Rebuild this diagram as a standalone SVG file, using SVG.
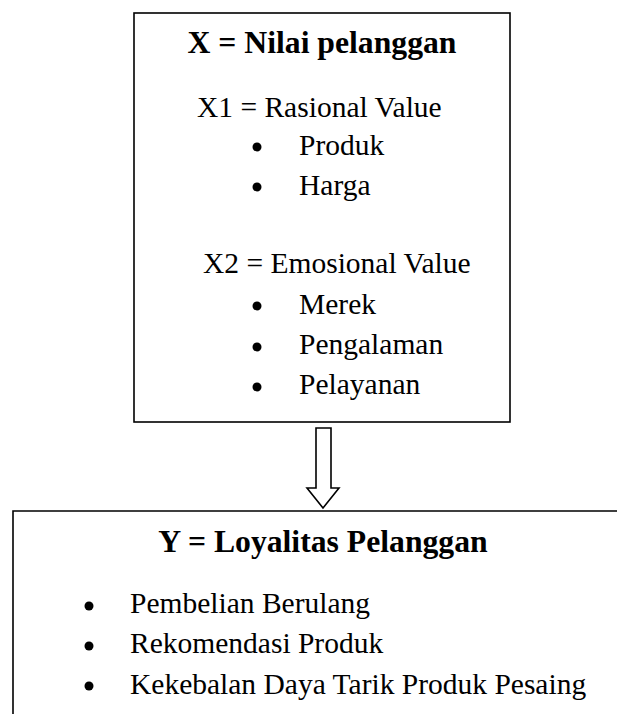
<svg xmlns="http://www.w3.org/2000/svg" width="617" height="714" viewBox="0 0 617 714">
<style>
.box{fill:none;stroke:#000;stroke-width:1.6}
.t{font-family:"Liberation Serif","Times New Roman",serif;font-size:29.5px;fill:#000}
.h{font-family:"Liberation Serif","Times New Roman",serif;font-size:31.7px;font-weight:bold;fill:#000}
.b{fill:#000}
</style>
<rect width="617" height="714" fill="#fff"/>
<g id="nodeX">
<rect class="box" x="134" y="13" width="376" height="409"/>
<text class="h" x="322" y="53" text-anchor="middle">X = Nilai pelanggan</text>
<text class="t" x="197" y="117">X1 = Rasional Value</text>
<circle class="b" cx="257" cy="147" r="4.5"/>
<text class="t" x="299" y="155">Produk</text>
<circle class="b" cx="257" cy="187" r="4.5"/>
<text class="t" x="299" y="195">Harga</text>
<text class="t" x="203" y="273">X2 = Emosional Value</text>
<circle class="b" cx="257" cy="306" r="4.5"/>
<text class="t" x="299" y="314">Merek</text>
<circle class="b" cx="257" cy="347" r="4.5"/>
<text class="t" x="299" y="354">Pengalaman</text>
<circle class="b" cx="257" cy="387" r="4.5"/>
<text class="t" x="299" y="394">Pelayanan</text>
</g>
<g id="connectors">
<polygon class="box" points="316,428 331,428 331,488 339,488 323,508 307,488 316,488"/>
</g>
<g id="nodeY">
<path class="box" d="M13,714 V511 H617"/>
<text class="h" x="323" y="552" text-anchor="middle">Y = Loyalitas Pelanggan</text>
<circle class="b" cx="89" cy="606" r="4.5"/>
<text class="t" x="130" y="613">Pembelian Berulang</text>
<circle class="b" cx="89" cy="646" r="4.5"/>
<text class="t" x="130" y="653">Rekomendasi Produk</text>
<circle class="b" cx="89" cy="686" r="4.5"/>
<text class="t" x="130" y="694">Kekebalan Daya Tarik Produk Pesaing</text>
</g>
</svg>
